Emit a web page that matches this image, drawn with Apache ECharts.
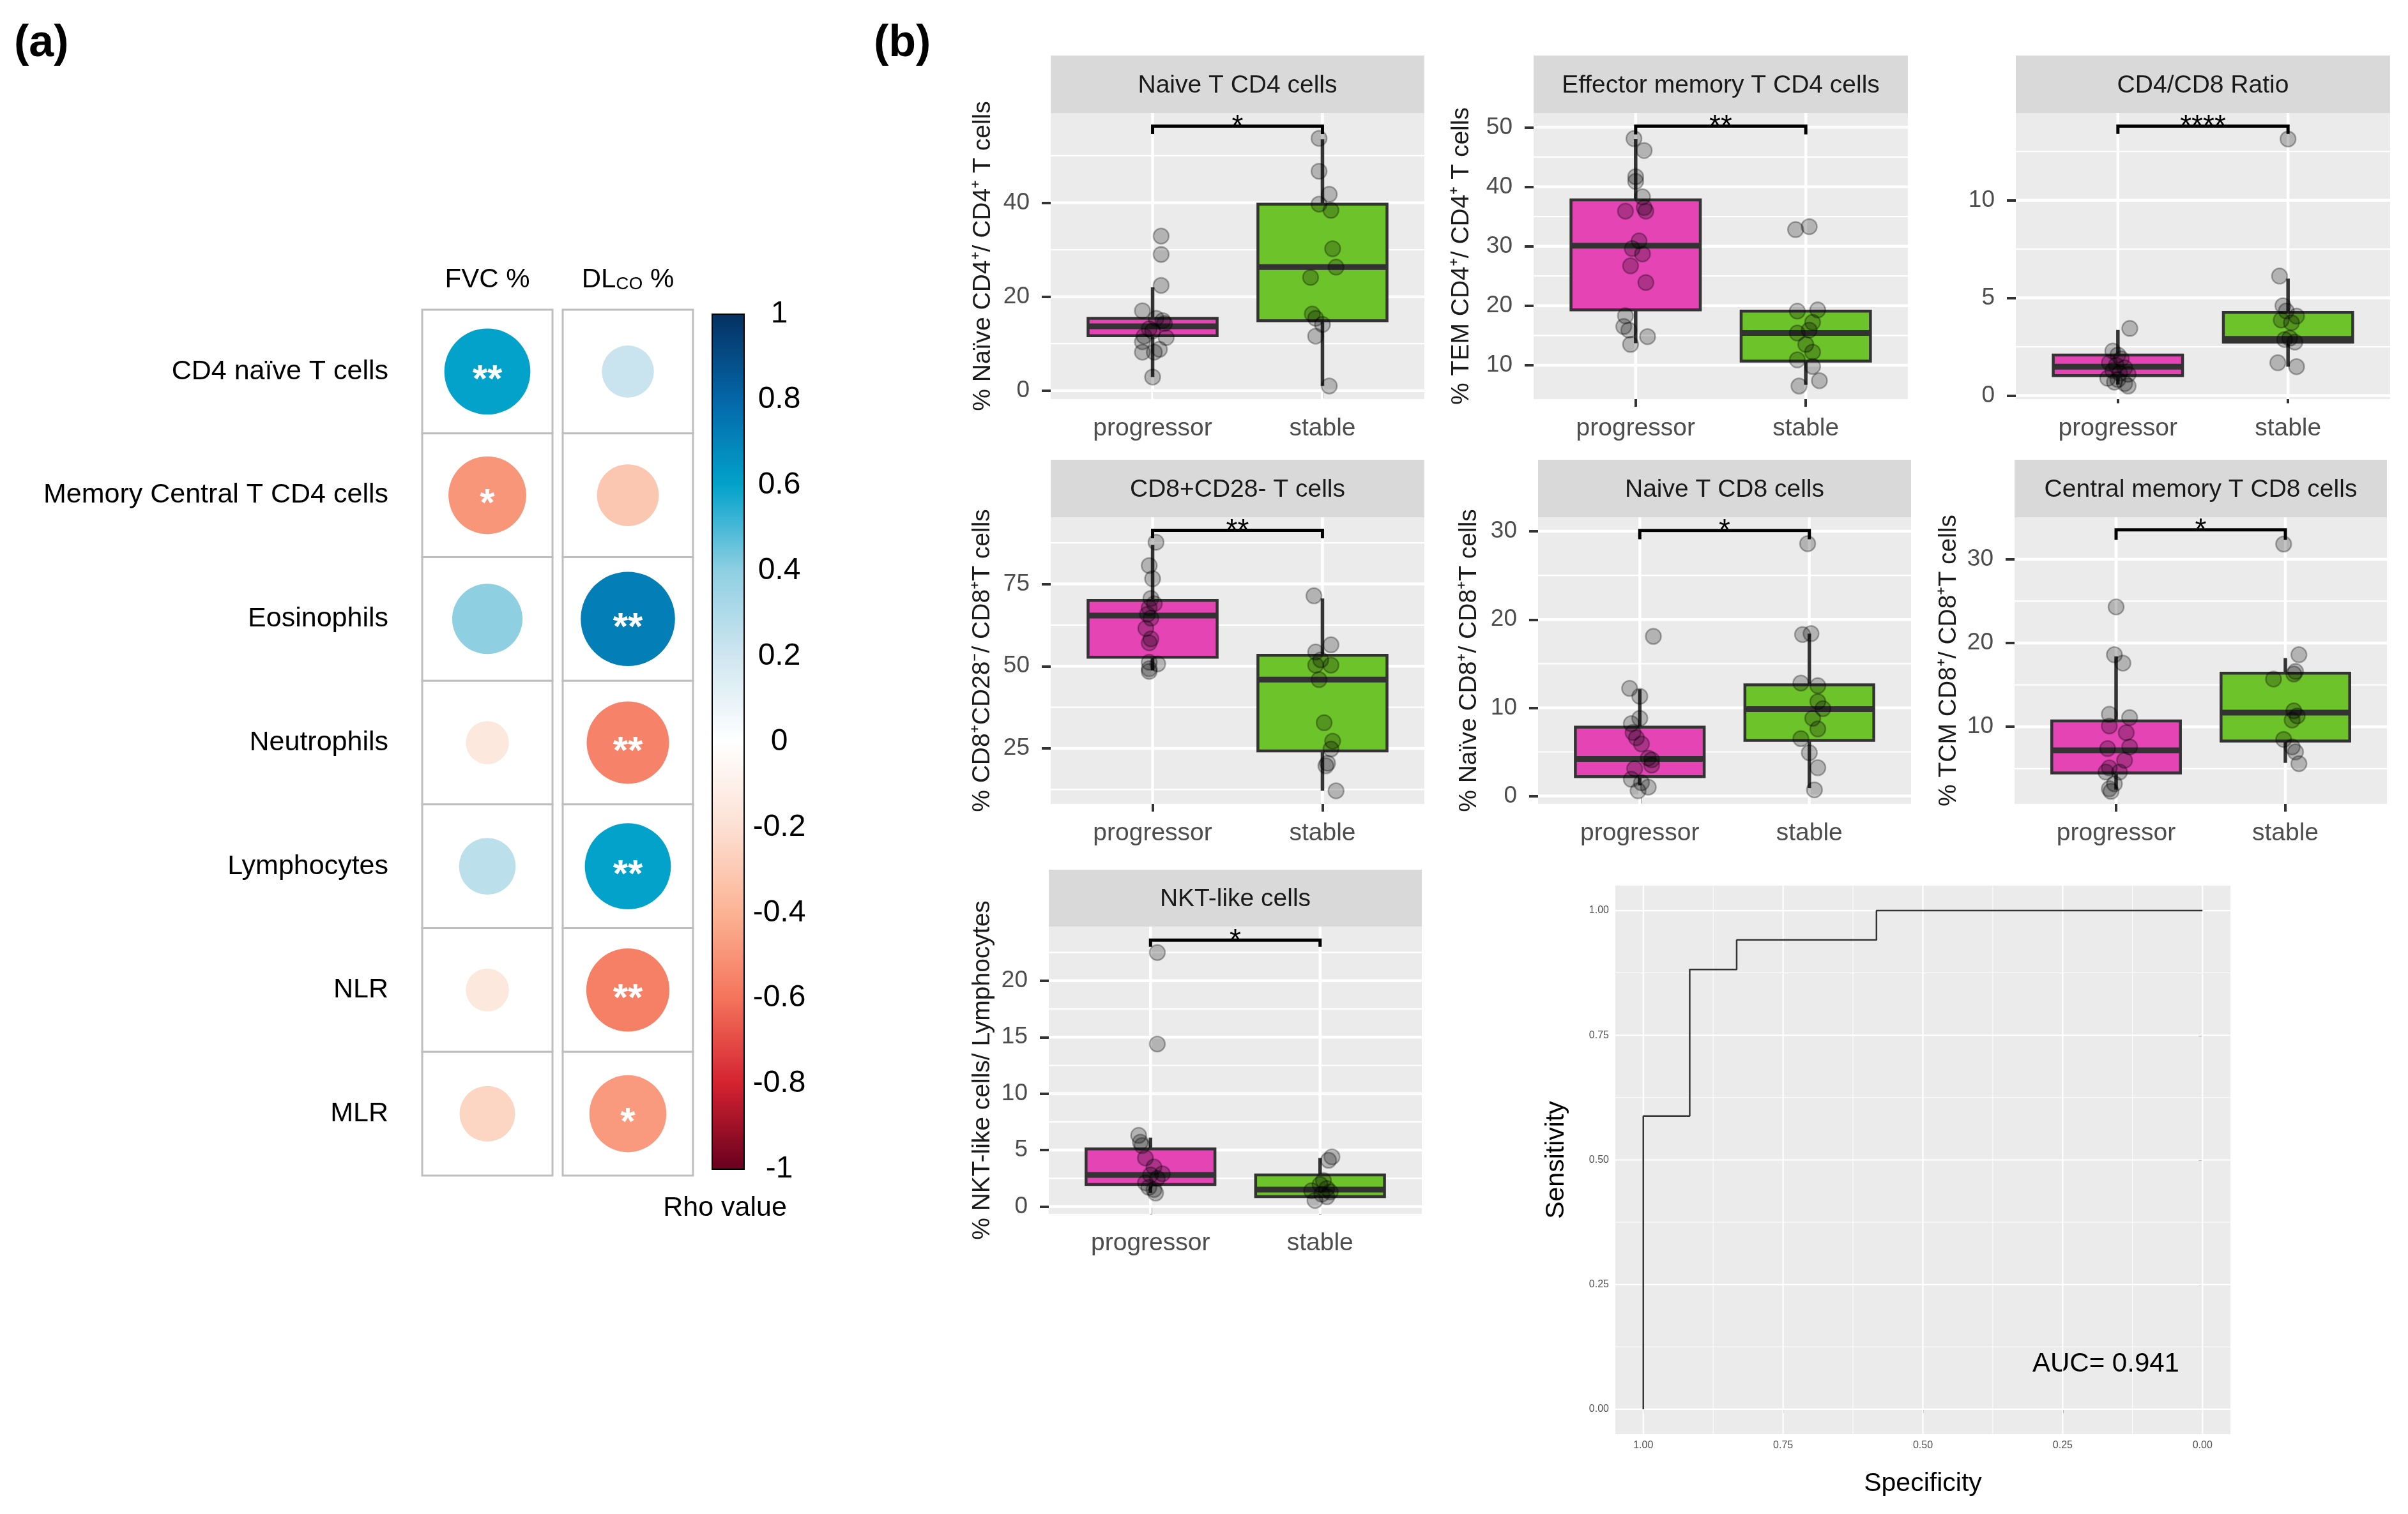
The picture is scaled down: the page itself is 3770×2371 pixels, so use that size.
<!DOCTYPE html>
<html><head><meta charset="utf-8">
<script src="https://cdn.jsdelivr.net/npm/echarts@6/dist/echarts.min.js"></script>
<style>html,body{margin:0;padding:0;background:#fff}#c{width:3770px;height:2371px}</style>
</head><body><div id="c"></div>
<script>
// ---------------- Panel (a): correlation matrix ----------------
const corrRows = ['CD4 naïve T cells','Memory Central T CD4 cells','Eosinophils','Neutrophils','Lymphocytes','NLR','MLR'];
const corrCols = ['FVC %','DLCO %'];
const rhoFVC  = [0.60,-0.49,0.40,-0.15,0.26,-0.15,-0.25];
const rhoDLCO = [0.22,-0.31,0.72,-0.55,0.60,-0.56,-0.48];
const sigFVC  = ['**','*','','','','',''];
const sigDLCO = ['','','**','**','**','**','*'];
const colorbarTicks = [-1,-0.8,-0.6,-0.4,-0.2,0,0.2,0.4,0.6,0.8,1];
const colorbarTickLabels = ['-1','-0.8','-0.6','-0.4','-0.2','0','0.2','0.4','0.6','0.8','1'];
const rhoPalette = ['#67001F','#D42230','#F4735A','#FCB394','#FCE0D3','#FFFFFF','#D0E6F0','#8ECFE2','#02A2CB','#0466A8','#053061'];

// ---------------- Panel (b): box plots ----------------
const groups = ['progressor','stable'];
const groupIndex = [1,2];

// Naive T CD4 cells
const naiveCD4_prog = [[1.05,32.9],[1.05,29.0],[1.05,22.4],[0.94,17.0],[1.02,15.4],[1.06,14.9],[1.07,14.3],[0.98,13.2],[1.0,12.7],[0.95,11.6],[1.08,11.3],[0.94,10.4],[1.04,8.8],[0.94,8.2],[1.01,8.2],[1.0,2.9]];
const naiveCD4_stable = [[1.98,53.7],[1.98,46.7],[2.04,41.8],[1.98,39.7],[2.05,38.4],[2.06,30.2],[2.08,26.3],[1.93,24.1],[1.94,16.3],[1.96,15.4],[2.0,14.1],[1.96,11.6],[2.04,1.0]];
const naiveCD4_box = [[1,2.9,11.7,13.7,15.4,22.0],[2,1.0,14.9,26.3,39.7,53.5]];
const naiveCD4_sig = [1,2,56.3,54.6];
const naiveCD4_ticks = [0,20,40];
const naiveCD4_minor = [10,30,50];
const naiveCD4_range = [-1.8,59.1];

// Effector memory T CD4 cells
const temCD4_prog = [[0.99,48.1],[1.05,46.1],[1.0,41.7],[1.0,40.9],[1.04,38.3],[1.05,36.5],[0.94,35.9],[1.06,35.9],[1.02,30.9],[0.98,29.6],[1.04,28.7],[0.97,26.7],[1.06,23.9],[0.94,18.3],[0.93,16.5],[0.96,15.9],[1.07,14.8],[0.97,13.5]];
const temCD4_stable = [[1.94,32.8],[2.02,33.3],[1.95,19.1],[2.07,19.3],[2.04,17.2],[1.95,15.4],[2.02,15.9],[2.0,13.5],[2.04,12.2],[1.95,10.9],[2.04,9.8],[2.08,7.4],[1.96,6.5]];
const temCD4_box = [[1,13.7,19.3,30.1,37.8,48.0],[2,6.7,10.7,15.4,19.1,19.3]];
const temCD4_sig = [1,2,50.2,48.8];
const temCD4_ticks = [10,20,30,40,50];
const temCD4_minor = [15,25,35,45];
const temCD4_range = [4.3,52.4];

// CD4/CD8 Ratio
const ratio_prog = [[1.07,3.44],[0.97,2.28],[1.0,2.08],[1.02,1.88],[0.95,1.68],[0.99,1.55],[1.04,1.42],[0.97,1.28],[1.01,1.15],[1.06,1.09],[0.94,0.89],[1.0,0.82],[0.98,0.69],[1.04,0.62],[1.06,0.49]];
const ratio_stable = [[2.0,13.14],[1.95,6.12],[1.97,4.6],[1.99,4.33],[2.05,4.07],[1.96,3.87],[2.02,3.73],[2.01,2.94],[1.98,2.87],[2.04,2.74],[1.94,1.68],[2.05,1.48]];
const ratio_box = [[1,0.56,1.02,1.48,2.08,3.36],[2,1.48,2.74,2.9,4.26,5.99]];
const ratio_sig = [1,2,13.8,13.4];
const ratio_ticks = [0,5,10];
const ratio_minor = [2.5,7.5,12.5];
const ratio_range = [-0.18,14.47];

// CD8+CD28- T cells
const cd28_prog = [[1.02,87.7],[0.98,80.6],[1.0,76.6],[0.99,70.6],[1.01,69.0],[0.98,67.8],[0.97,65.8],[0.99,64.6],[0.96,61.5],[0.99,58.3],[0.98,57.1],[0.98,51.2],[1.03,50.7],[0.98,49.2],[0.98,48.4]];
const cd28_stable = [[1.95,71.4],[2.05,56.5],[1.96,54.3],[1.99,51.9],[1.96,50.3],[2.05,50.3],[1.98,45.9],[2.01,32.8],[2.06,27.2],[2.05,24.8],[2.03,20.5],[2.02,19.7],[2.08,12.1]];
const cd28_box = [[1,48.7,52.7,65.4,70.0,86.9],[2,12.1,24.2,45.9,53.3,70.6]];
const cd28_sig = [1,2,91.3,88.9];
const cd28_ticks = [25,50,75];
const cd28_minor = [12.5,37.5,62.5,87.5];
const cd28_range = [8.1,95.3];

// Naive T CD8 cells
const naiveCD8_prog = [[1.08,18.1],[0.94,12.2],[1.0,11.3],[1.0,8.8],[0.95,8.2],[0.96,7.2],[0.98,6.6],[1.01,5.9],[1.05,4.3],[1.07,4.1],[0.97,3.1],[1.07,3.5],[0.95,1.9],[1.01,1.5],[1.05,1.0],[0.99,0.6]];
const naiveCD8_stable = [[1.99,28.6],[1.96,18.3],[2.01,18.4],[1.95,12.8],[2.05,12.5],[2.05,10.7],[2.08,9.9],[2.02,8.8],[2.05,7.6],[1.95,6.5],[2.0,4.9],[2.05,3.2],[2.03,0.7]];
const naiveCD8_box = [[1,1.2,2.2,4.2,7.8,12.1],[2,0.9,6.3,9.85,12.6,18.4]];
const naiveCD8_sig = [1,2,30.1,29.1];
const naiveCD8_ticks = [0,10,20,30];
const naiveCD8_minor = [5,15,25];
const naiveCD8_range = [-0.9,31.6];

// Central memory T CD8 cells
const tcmCD8_prog = [[1.0,24.3],[0.99,18.6],[1.04,17.6],[0.96,11.5],[1.08,11.1],[0.96,10.1],[1.06,9.3],[1.08,7.6],[0.95,7.4],[1.05,6.0],[0.96,5.1],[1.02,4.6],[0.94,4.6],[0.99,3.2],[0.96,2.6],[0.97,2.3]];
const tcmCD8_stable = [[1.99,31.8],[2.08,18.6],[2.06,16.6],[2.05,16.3],[1.93,15.7],[2.05,11.9],[2.07,11.3],[2.04,10.8],[1.99,8.5],[2.04,7.6],[2.06,7.0],[2.08,5.6]];
const tcmCD8_box = [[1,2.5,4.5,7.2,10.7,18.4],[2,5.7,8.3,11.7,16.4,18.2]];
const tcmCD8_sig = [1,2,33.5,32.3];
const tcmCD8_ticks = [10,20,30];
const tcmCD8_minor = [5,15,25];
const tcmCD8_range = [0.8,35.0];

// NKT-like cells
const nkt_prog = [[1.04,22.5],[1.04,14.4],[0.93,6.3],[0.94,5.7],[0.95,5.4],[0.97,4.3],[1.02,3.5],[1.07,2.9],[1.0,2.8],[1.04,2.5],[0.97,2.1],[0.99,1.7],[1.02,1.5],[1.03,1.2]];
const nkt_stable = [[2.07,4.4],[2.05,4.1],[2.02,2.3],[2.0,1.95],[2.04,1.6],[1.95,1.4],[2.06,1.3],[2.01,1.1],[1.97,0.54],[2.04,0.87]];
const nkt_box = [[1,1.2,1.95,2.8,5.1,6.1],[2,0.76,0.87,1.5,2.8,4.3]];
const nkt_sig = [1,2,23.6,23.0];
const nkt_ticks = [0,5,10,15,20];
const nkt_minor = [2.5,7.5,12.5,17.5,22.5];
const nkt_range = [-0.65,24.8];

// ROC curve
const rocSpecificity = [1.0,1.0,0.917,0.917,0.833,0.833,0.583,0.583,0.0];
const rocSensitivity = [0.0,0.588,0.588,0.882,0.882,0.941,0.941,1.0,1.0];
const rocTicks = [0,0.25,0.5,0.75,1];
const rocTickLabels = ['0.00','0.25','0.50','0.75','1.00'];
const rocMinor = [0.125,0.375,0.625,0.875];
const rocAUC = 'AUC= 0.941';

// ---------------- layout ----------------
const FONT = 'Liberation Sans';
const boxFill = ['#E444B4','#6DC42A'];
const panels = [
  {title:'Naive T CD4 cells', ytitle:'% Naïve CD4⁺/ CD4⁺ T cells', prog:naiveCD4_prog, stable:naiveCD4_stable, box:naiveCD4_box, sig:naiveCD4_sig, star:'*', ticks:naiveCD4_ticks, minor:naiveCD4_minor, range:naiveCD4_range, left:1645, top:177, width:585, height:448, stripTop:87, gap:86},
  {title:'Effector memory T CD4 cells', ytitle:'% TEM CD4⁺/ CD4⁺ T cells', prog:temCD4_prog, stable:temCD4_stable, box:temCD4_box, sig:temCD4_sig, star:'**', ticks:temCD4_ticks, minor:temCD4_minor, range:temCD4_range, left:2401, top:177, width:586, height:448, stripTop:87, gap:93},
  {title:'CD4/CD8 Ratio', ytitle:'', prog:ratio_prog, stable:ratio_stable, box:ratio_box, sig:ratio_sig, star:'****', ticks:ratio_ticks, minor:ratio_minor, range:ratio_range, left:3156, top:177, width:586, height:448, stripTop:87, gap:90},
  {title:'CD8+CD28- T cells', ytitle:'% CD8⁺CD28⁻/ CD8⁺T cells', prog:cd28_prog, stable:cd28_stable, box:cd28_box, sig:cd28_sig, star:'**', ticks:cd28_ticks, minor:cd28_minor, range:cd28_range, left:1645, top:810, width:585, height:449, stripTop:720, gap:87},
  {title:'Naive T CD8 cells', ytitle:'% Naïve CD8⁺/ CD8⁺T cells', prog:naiveCD8_prog, stable:naiveCD8_stable, box:naiveCD8_box, sig:naiveCD8_sig, star:'*', ticks:naiveCD8_ticks, minor:naiveCD8_minor, range:naiveCD8_range, left:2408, top:810, width:584, height:449, stripTop:720, gap:88},
  {title:'Central memory T CD8 cells', ytitle:'% TCM CD8⁺/ CD8⁺T cells', prog:tcmCD8_prog, stable:tcmCD8_stable, box:tcmCD8_box, sig:tcmCD8_sig, star:'*', ticks:tcmCD8_ticks, minor:tcmCD8_minor, range:tcmCD8_range, left:3154, top:810, width:583, height:449, stripTop:720, gap:83},
  {title:'NKT-like cells', ytitle:'% NKT-like cells/ Lymphocytes', prog:nkt_prog, stable:nkt_stable, box:nkt_box, sig:nkt_sig, star:'*', ticks:nkt_ticks, minor:nkt_minor, range:nkt_range, left:1642, top:1451, width:584, height:450, stripTop:1362, gap:84}
];

const grids=[], xAxes=[], yAxes=[], series=[], graphics=[];

// ---- correlation grid (0)
grids.push({left:653, top:485, width:440, height:1356, show:false});
xAxes.push({gridIndex:0, type:'category', data:corrCols, position:'top',
  axisLine:{show:false}, axisTick:{show:false}, splitLine:{show:false},
  axisLabel:{interval:0, margin:26, fontSize:42, color:'#000',
    formatter: v => v === 'DLCO %' ? '{a|DL}{s|CO}{a| %}' : v,
    rich:{a:{fontSize:42, color:'#000', fontFamily:FONT}, s:{fontSize:28, color:'#000', fontFamily:FONT, padding:[14,0,0,0]}}}});
yAxes.push({gridIndex:0, type:'category', data:corrRows, inverse:true,
  axisLine:{show:false}, axisTick:{show:false}, splitLine:{show:false},
  axisLabel:{interval:0, margin:45, fontSize:43, color:'#000', padding:[12,0,0,0]}});
const cellData = [];
corrRows.forEach((r,i)=>corrCols.forEach((c,j)=>cellData.push([j,i])));
series.push({type:'custom', xAxisIndex:0, yAxisIndex:0, data:cellData, z:1, silent:true,
  renderItem:(params, api)=>{
    const p = api.coord([api.value(0), api.value(1)]);
    const s = api.size([1,1]);
    const inset = 8;
    return {type:'rect', shape:{x:p[0]-s[0]/2+inset, y:p[1]-s[1]/2, width:s[0]-2*inset, height:s[1]},
      style:{fill:'#fff', stroke:'#BEBEBE', lineWidth:3}};
  }});
const corrPoints = [], corrSig = [];
corrRows.forEach((r,i)=>{
  corrPoints.push([0,i,rhoFVC[i]]); corrSig.push(sigFVC[i]);
  corrPoints.push([1,i,rhoDLCO[i]]); corrSig.push(sigDLCO[i]);
});
const corrSeriesIndex = series.length;
series.push({type:'scatter', xAxisIndex:0, yAxisIndex:0, data:corrPoints, z:2, silent:true,
  symbolSize: v => 174*Math.sqrt(Math.abs(v[2])),
  itemStyle:{opacity:1},
  label:{show:true, position:'inside', formatter: p => corrSig[p.dataIndex], color:'#fff', fontSize:60, fontWeight:'bold', offset:[0,15]}});

// ---- colour bar grid (1)
grids.push({left:1115, top:492, width:50, height:1339, show:false});
xAxes.push({gridIndex:1, type:'value', min:0, max:1, show:false});
yAxes.push({gridIndex:1, type:'value', min:-1, max:1, interval:0.2, position:'right',
  axisLine:{show:true, lineStyle:{color:'#000', width:2}},
  axisTick:{show:true, length:11, lineStyle:{color:'#000', width:2}},
  splitLine:{show:false},
  axisLabel:{margin:55, align:'center', fontSize:48, color:'#000',
    formatter: v => { const k = colorbarTicks.findIndex(t => Math.abs(t - v) < 1e-6); return k >= 0 ? colorbarTickLabels[k] : ''; }}});
series.push({type:'custom', xAxisIndex:1, yAxisIndex:1, data:[[0,0]], silent:true, z:1,
  renderItem:(params, api)=>{
    const tl = api.coord([0, colorbarTicks[colorbarTicks.length-1]]);
    const br = api.coord([1, colorbarTicks[0]]);
    return {type:'rect', shape:{x:tl[0], y:tl[1], width:br[0]-tl[0], height:br[1]-tl[1]},
      style:{fill:new echarts.graphic.LinearGradient(0,1,0,0, rhoPalette.map((c,i)=>({offset:i/(rhoPalette.length-1), color:c}))),
        stroke:'#000', lineWidth:2}};
  }});

// ---- box plot panels
panels.forEach((p, k)=>{
  const gi = grids.length;
  grids.push({left:p.left, top:p.top, width:p.width, height:p.height, show:true, backgroundColor:'#EBEBEB', borderWidth:0});
  xAxes.push({gridIndex:gi, type:'value', min:0.4, max:2.6,
    axisLine:{show:false}, splitLine:{show:false},
    axisTick:{show:true, customValues:groupIndex, length:12, lineStyle:{color:'#333', width:4}},
    axisLabel:{customValues:groupIndex, formatter: v => groups[Math.round(v)-1], fontSize:39, color:'#4D4D4D', margin:27}});
  yAxes.push({gridIndex:gi, type:'value', min:p.range[0], max:p.range[1],
    axisLine:{show:false}, splitLine:{show:false},
    axisTick:{show:true, customValues:p.ticks, length:14, lineStyle:{color:'#333', width:4}},
    axisLabel:{customValues:p.ticks, fontSize:37, color:'#4D4D4D', margin:33},
    name:p.ytitle, nameLocation:'middle', nameGap:p.gap, nameTextStyle:{fontSize:39, color:'#1A1A1A'}});
  const lineData = p.ticks.map(v=>[1.5, v, 1]).concat(p.minor.map(v=>[1.5, v, 0]));
  series.push({type:'custom', xAxisIndex:gi, yAxisIndex:gi, data:lineData, z:1, silent:true, clip:true,
    renderItem:(params, api)=>{
      const cs = params.coordSys;
      const y = api.coord([api.value(0), api.value(1)])[1];
      return {type:'line', shape:{x1:cs.x, y1:y, x2:cs.x+cs.width, y2:y},
        style:{stroke:'#fff', lineWidth: api.value(2) ? 4.5 : 2.2}};
    }});
  series.push({type:'custom', xAxisIndex:gi, yAxisIndex:gi, data:groupIndex.map(g=>[g, p.range[0]]), z:1, silent:true,
    renderItem:(params, api)=>{
      const cs = params.coordSys;
      const x = api.coord([api.value(0), api.value(1)])[0];
      return {type:'line', shape:{x1:x, y1:cs.y, x2:x, y2:cs.y+cs.height}, style:{stroke:'#fff', lineWidth:4.5}};
    }});
  series.push({type:'custom', xAxisIndex:gi, yAxisIndex:gi, data:p.box, z:2, silent:true,
    renderItem:(params, api)=>{
      const x = api.value(0);
      const lo = api.coord([x, api.value(1)]);
      const q1 = api.coord([x, api.value(2)]);
      const md = api.coord([x, api.value(3)]);
      const q3 = api.coord([x, api.value(4)]);
      const hi = api.coord([x, api.value(5)]);
      const half = api.size([0.76, 0])[0]/2;
      const cx = md[0];
      return {type:'group', children:[
        {type:'line', shape:{x1:cx, y1:hi[1], x2:cx, y2:q3[1]}, style:{stroke:'#333', lineWidth:5.5}},
        {type:'line', shape:{x1:cx, y1:q1[1], x2:cx, y2:lo[1]}, style:{stroke:'#333', lineWidth:5.5}},
        {type:'rect', shape:{x:cx-half, y:q3[1], width:2*half, height:q1[1]-q3[1]}, style:{fill:boxFill[params.dataIndex], stroke:'#333', lineWidth:4.5}},
        {type:'line', shape:{x1:cx-half, y1:md[1], x2:cx+half, y2:md[1]}, style:{stroke:'#333', lineWidth:9}}
      ]};
    }});
  series.push({type:'scatter', xAxisIndex:gi, yAxisIndex:gi, data:p.prog.concat(p.stable), z:3, silent:true,
    symbolSize:24, itemStyle:{color:'rgba(0,0,0,0.24)', borderColor:'rgba(0,0,0,0.3)', borderWidth:2.5, opacity:1}});
  series.push({type:'custom', xAxisIndex:gi, yAxisIndex:gi, data:[p.sig], z:4, silent:true, clip:false,
    renderItem:(params, api)=>{
      const a = api.coord([api.value(0), api.value(3)]);
      const b = api.coord([api.value(0), api.value(2)]);
      const c = api.coord([api.value(1), api.value(2)]);
      const d = api.coord([api.value(1), api.value(3)]);
      return {type:'group', children:[
        {type:'polyline', shape:{points:[a,b,c,d]}, style:{stroke:'#000', lineWidth:5, fill:null}},
        {type:'text', x:(b[0]+c[0])/2, y:b[1]+2, style:{text:p.star, fontSize:46, fontFamily:FONT, fill:'#000', align:'center', verticalAlign:'middle'}}
      ]};
    }});
  // strip
  graphics.push({type:'rect', left:p.left, top:p.stripTop, shape:{width:p.width, height:p.top-p.stripTop}, style:{fill:'#D9D9D9'}, z:0});
  graphics.push({type:'text', x:p.left+p.width/2, y:(p.stripTop+p.top)/2+2, style:{text:p.title, fontSize:39, fontFamily:FONT, fill:'#1A1A1A', align:'center', verticalAlign:'middle'}, z:1});
});

// ---- ROC panel
const rg = grids.length;
grids.push({left:2529, top:1387, width:963, height:859, show:true, backgroundColor:'#EBEBEB', borderWidth:0});
xAxes.push({gridIndex:rg, type:'value', inverse:true, min:-0.05, max:1.05,
  axisLine:{show:false}, splitLine:{show:false},
  axisTick:{show:true, customValues:rocTicks, length:6, lineStyle:{color:'#555', width:1.5}},
  axisLabel:{customValues:rocTicks, formatter: v => rocTickLabels[rocTicks.findIndex(t=>Math.abs(t-v)<1e-6)], fontSize:16, color:'#4D4D4D', margin:10},
  name:'Specificity', nameLocation:'middle', nameGap:57, nameTextStyle:{fontSize:41, color:'#000'}});
yAxes.push({gridIndex:rg, type:'value', min:-0.05, max:1.05,
  axisLine:{show:false}, splitLine:{show:false},
  axisTick:{show:true, customValues:rocTicks, length:6, lineStyle:{color:'#555', width:1.5}},
  axisLabel:{customValues:rocTicks, formatter: v => rocTickLabels[rocTicks.findIndex(t=>Math.abs(t-v)<1e-6)], fontSize:16, color:'#4D4D4D', margin:10},
  name:'Sensitivity', nameLocation:'middle', nameGap:72, nameTextStyle:{fontSize:41, color:'#000'}});
const rocLineData = rocTicks.map(v=>[v,1]).concat(rocMinor.map(v=>[v,0]));
series.push({type:'custom', xAxisIndex:rg, yAxisIndex:rg, data:rocLineData.map(d=>[0.5, d[0], d[1]]), z:1, silent:true,
  renderItem:(params, api)=>{
    const cs = params.coordSys;
    const y = api.coord([api.value(0), api.value(1)])[1];
    return {type:'line', shape:{x1:cs.x, y1:y, x2:cs.x+cs.width, y2:y}, style:{stroke:'#fff', lineWidth: api.value(2) ? 2.2 : 1}};
  }});
series.push({type:'custom', xAxisIndex:rg, yAxisIndex:rg, data:rocLineData.map(d=>[d[0], 0.5, d[1]]), z:1, silent:true,
  renderItem:(params, api)=>{
    const cs = params.coordSys;
    const x = api.coord([api.value(0), api.value(1)])[0];
    return {type:'line', shape:{x1:x, y1:cs.y, x2:x, y2:cs.y+cs.height}, style:{stroke:'#fff', lineWidth: api.value(2) ? 2.2 : 1}};
  }});
series.push({type:'line', xAxisIndex:rg, yAxisIndex:rg, data:rocSpecificity.map((s,i)=>[s, rocSensitivity[i]]),
  symbol:'none', z:3, silent:true, lineStyle:{color:'#333', width:2.5}});

// ---- free texts
graphics.push({type:'text', left:22, top:34, style:{text:'(a)', fontSize:70, fontWeight:'bold', fontFamily:FONT, fill:'#000'}});
graphics.push({type:'text', left:1368, top:34, style:{text:'(b)', fontSize:70, fontWeight:'bold', fontFamily:FONT, fill:'#000'}});
graphics.push({type:'text', x:1135, y:1892, style:{text:'Rho value', fontSize:43, fontFamily:FONT, fill:'#000', align:'center', verticalAlign:'middle'}});
graphics.push({type:'text', x:3182, y:2136, style:{text:rocAUC, fontSize:42, fontFamily:FONT, fill:'#000', align:'left', verticalAlign:'middle'}});

const chart = echarts.init(document.getElementById('c'), null, {renderer:'canvas', width:3770, height:2371});
chart.setOption({
  animation:false,
  backgroundColor:'#fff',
  textStyle:{fontFamily:FONT},
  grid:grids, xAxis:xAxes, yAxis:yAxes, series:series, graphic:graphics,
  visualMap:[{type:'continuous', show:false, min:-1, max:1, dimension:2, seriesIndex:corrSeriesIndex, inRange:{color:rhoPalette}}]
});
</script>
</body></html>
